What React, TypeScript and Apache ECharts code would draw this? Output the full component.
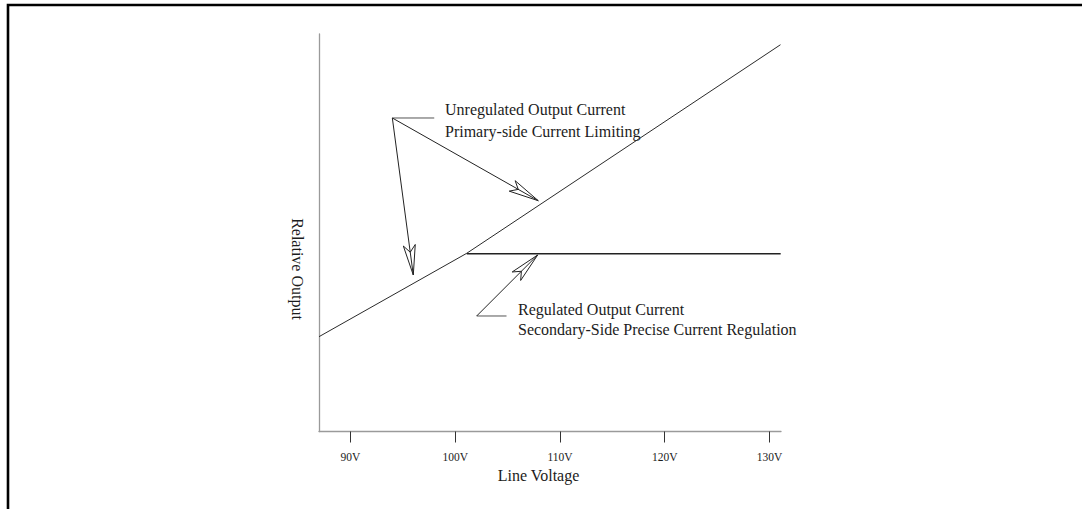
import React, { useEffect, useRef } from "react";
import * as echarts from "echarts";

// ---- data (axis units: volts on x, relative output 0..100 on y) ----
const xTickValues = [90, 100, 110, 120, 130];
const xMin = 87;
const xMax = 131.1;
const yMin = 0;
const yMax = 100;

const unregulatedX = [87, 101.1, 131.05];
const unregulatedY = [23.85, 44.83, 97.3];

const regulatedX = [101.1, 131.07];
const regulatedY = [44.7, 44.7];

// callout arrows: from -> to
const arrowFromX = [94.0, 94.0, 102.05];
const arrowFromY = [78.87, 78.87, 29.06];
const arrowToX = [107.93, 96.0, 107.87];
const arrowToY = [58.06, 39.37, 44.4];

// short horizontal leaders from the arrow roots toward the notes
const leaderFromX = [94.0, 102.05];
const leaderToX = [98.0, 104.9];
const leaderY = [78.87, 29.06];

const unregulatedNote = ["Unregulated Output Current", "Primary-side Current Limiting"];
const regulatedNote = ["Regulated Output Current", "Secondary-Side Precise Current Regulation"];
const xAxisTitle = "Line Voltage";
const yAxisTitle = "Relative Output";

const SERIF = "'Liberation Serif', 'Times New Roman', serif";
const INK = "#1c1c1c";

export default function App() {
  const ref = useRef<HTMLDivElement>(null);

  useEffect(() => {
    if (!ref.current) return;
    const chart = echarts.init(ref.current, undefined, { renderer: "svg" });

    const unregulatedData = unregulatedX.map((x, i) => [x, unregulatedY[i]]);
    const regulatedData = regulatedX.map((x, i) => [x, regulatedY[i]]);
    const arrowData = arrowFromX.map((x, i) => [x, arrowFromY[i], arrowToX[i], arrowToY[i]]);
    const leaderData = leaderFromX.map((x, i) => [x, leaderY[i], leaderToX[i], leaderY[i]]);

    const noteText = (lines: string[], x: number, y: number, gap: number) =>
      lines.map((t, i) => ({
        type: "text",
        x,
        y: y + i * gap,
        silent: true,
        style: {
          text: t,
          fill: INK,
          font: `16px ${SERIF}`,
          align: "left",
          verticalAlign: "middle",
        },
      }));

    chart.setOption({
      animation: false,
      backgroundColor: "#ffffff",
      grid: { left: 319, top: 34, width: 462, height: 397.5, containLabel: false },
      xAxis: {
        type: "value",
        min: xMin,
        max: xMax,
        splitLine: { show: false },
        axisLine: { show: true, lineStyle: { color: "#9a9a9a", width: 1.3 } },
        axisTick: {
          show: true,
          inside: false,
          length: 11,
          customValues: xTickValues,
          lineStyle: { color: "#333", width: 1 },
        },
        axisLabel: {
          show: true,
          customValues: xTickValues,
          margin: 19,
          color: INK,
          fontFamily: SERIF,
          fontSize: 11.5,
          formatter: (v: number) => `${v}V`,
        },
      },
      yAxis: {
        type: "value",
        min: yMin,
        max: yMax,
        splitLine: { show: false },
        axisLine: { show: true, lineStyle: { color: "#9a9a9a", width: 1.3 } },
        axisTick: { show: false },
        axisLabel: { show: false },
      },
      series: [
        {
          type: "line",
          name: "Unregulated",
          data: unregulatedData,
          symbol: "none",
          lineStyle: { color: "#2a2a2a", width: 1 },
        },
        {
          type: "line",
          name: "Regulated",
          data: regulatedData,
          symbol: "none",
          lineStyle: { color: "#222", width: 1.5 },
        },
        {
          type: "custom",
          name: "leaders",
          data: leaderData,
          encode: { x: [0, 2], y: [1, 3] },
          clip: false,
          renderItem: (_p: any, api: any) => {
            const a = api.coord([api.value(0), api.value(1)]);
            const b = api.coord([api.value(2), api.value(3)]);
            return {
              type: "line",
              shape: { x1: a[0], y1: a[1], x2: b[0], y2: b[1] },
              style: { stroke: "#555", lineWidth: 1 },
            };
          },
        },
        {
          type: "custom",
          name: "arrows",
          data: arrowData,
          encode: { x: [0, 2], y: [1, 3] },
          clip: false,
          renderItem: (_p: any, api: any) => {
            const p0 = api.coord([api.value(0), api.value(1)]);
            const p1 = api.coord([api.value(2), api.value(3)]);
            const dx = p1[0] - p0[0];
            const dy = p1[1] - p0[1];
            const len = Math.hypot(dx, dy) || 1;
            const ux = dx / len;
            const uy = dy / len;
            const nx = -uy;
            const ny = ux;
            const L = 30;
            const W = 6;
            const N = 7;
            const bx = p1[0] - ux * L;
            const by = p1[1] - uy * L;
            const notch = [p1[0] - ux * (L - N), p1[1] - uy * (L - N)];
            return {
              type: "group",
              children: [
                {
                  type: "line",
                  shape: { x1: p0[0], y1: p0[1], x2: p1[0], y2: p1[1] },
                  style: { stroke: "#222", lineWidth: 1 },
                },
                {
                  type: "polygon",
                  shape: {
                    points: [
                      [p1[0], p1[1]],
                      [bx + nx * W, by + ny * W],
                      notch,
                      [bx - nx * W, by - ny * W],
                    ],
                  },
                  style: { fill: "none", stroke: "#222", lineWidth: 1 },
                },
              ],
            };
          },
        },
      ],
      graphic: [
        {
          type: "polyline",
          silent: true,
          shape: { points: [[8, 520], [8, 5], [1095, 5]] },
          style: { stroke: "#000", lineWidth: 2.6, fill: "none" },
        },
        ...noteText(unregulatedNote, 445, 109.5, 21.7),
        ...noteText(regulatedNote, 518, 309, 20.5),
        {
          type: "text",
          x: 538.5,
          y: 475,
          silent: true,
          style: {
            text: xAxisTitle,
            fill: INK,
            font: `16px ${SERIF}`,
            align: "center",
            verticalAlign: "middle",
          },
        },
        {
          type: "text",
          x: 297,
          y: 269,
          rotation: -Math.PI / 2,
          silent: true,
          style: {
            text: yAxisTitle,
            fill: INK,
            font: `16px ${SERIF}`,
            align: "center",
            verticalAlign: "middle",
          },
        },
      ],
    });

    return () => {
      chart.dispose();
    };
  }, []);

  return (
    <div
      ref={ref}
      style={{ position: "fixed", left: 0, top: 0, width: 1082, height: 509, background: "#fff" }}
    />
  );
}
